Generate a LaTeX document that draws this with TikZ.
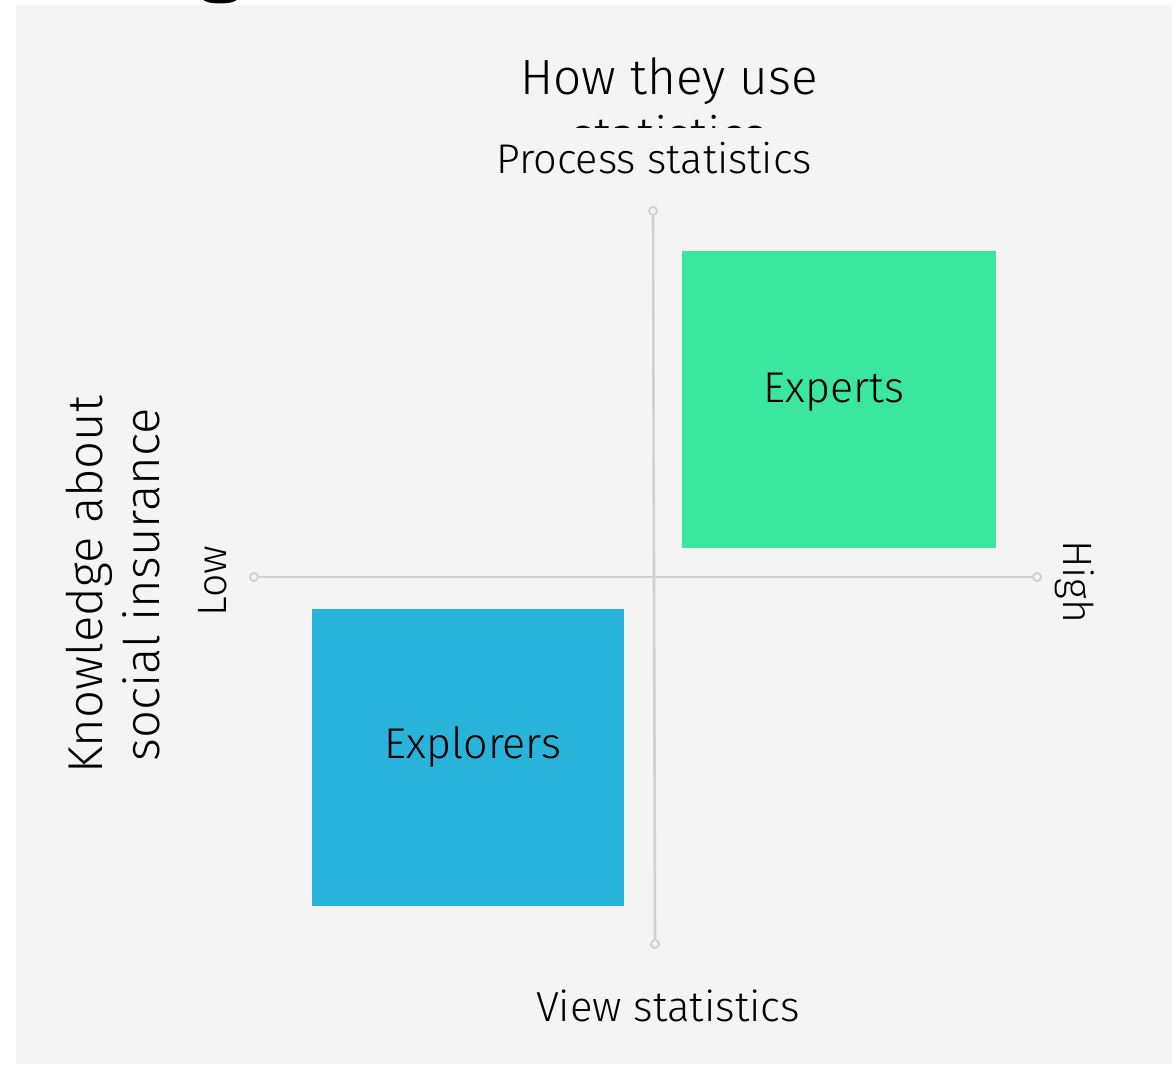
\documentclass[tikz,border=0pt]{standalone}
\usepackage{fontspec}
\setmainfont{Fira Sans Light}
\definecolor{bg}{HTML}{F4F4F4}
\definecolor{axisgray}{HTML}{CFCFD6}
\definecolor{expgreen}{HTML}{3BE69E}
\definecolor{expblue}{HTML}{27B3DA}
\begin{document}
\begin{tikzpicture}[x=1pt,y=-1pt,
  lbl/.style={inner sep=0pt,text=black},
  axisline/.style={draw=axisgray,line width=2.6pt},
  axisdot/.style={circle,draw=axisgray,line width=1.8pt,fill=bg,minimum size=8pt,inner sep=0pt}]
\useasboundingbox (0,0) rectangle (1174,1067);
\clip (0,0) rectangle (1174,1067);
\fill[black] (220,-1) ellipse (17 and 4.5);
\fill[bg] (16,5) rectangle (1172,1064);
% boxes
\fill[expgreen] (682,251) rectangle (996,548);
\fill[expblue] (312,609) rectangle (624,906);
\node[lbl,font=\fontsize{43}{50}\selectfont] (experts) at (834,392) {Experts};
\node[lbl,font=\fontsize{43}{50}\selectfont] (explorers) at (473,747) {Explorers};
% axes
\node[axisdot] (top) at (653,211) {};
\node[axisdot] (bot) at (655,944) {};
\node[axisdot] (left) at (254,577) {};
\node[axisdot] (right) at (1037,577) {};
\draw[axisline] (top) -- (bot);
\draw[axisline] (left) -- (right);
% titles
\node[lbl,anchor=base,font=\fontsize{49.5}{56}\selectfont] (title1) at (669,95) {How they use};
\begin{scope}
\clip (0,0) rectangle (1174,128);
\node[lbl,anchor=base,font=\fontsize{49.5}{56}\selectfont] (title2) at (669,153) {statistics};
\end{scope}
\node[lbl,anchor=base,font=\fontsize{41.5}{48}\selectfont] (proc) at (654,174) {Process statistics};
\node[lbl,anchor=base,font=\fontsize{42}{48}\selectfont] (view) at (668,1021) {View statistics};
\node[lbl,anchor=base,rotate=90,font=\fontsize{49}{56}\selectfont] (know1) at (102,585) {Knowledge about};
\node[lbl,anchor=base,rotate=90,font=\fontsize{49}{56}\selectfont] (know2) at (159,585) {social insurance};
\node[lbl,anchor=base,rotate=90,font=\fontsize{41}{48}\selectfont] (low) at (226,581) {Low};
\node[lbl,anchor=base,rotate=-90,font=\fontsize{41}{48}\selectfont] (high) at (1063,582) {High};
\end{tikzpicture}
\end{document}
